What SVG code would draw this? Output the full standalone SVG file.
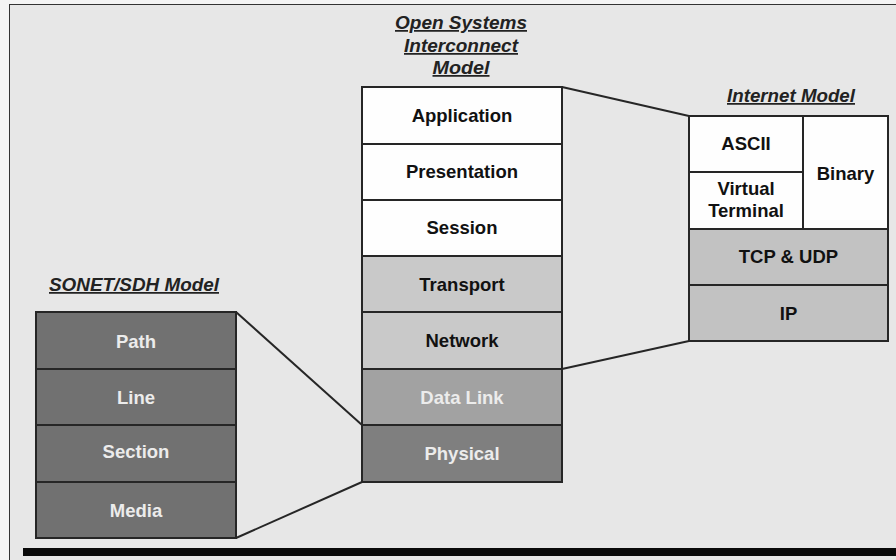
<svg xmlns="http://www.w3.org/2000/svg" width="896" height="560" viewBox="0 0 896 560">
<style>
.cell{stroke:#262626;stroke-width:2}
.w{fill:#fefefe}
.g1{fill:#c9c9c9}
.g2{fill:#a2a2a2}
.g3{fill:#7f7f7f}
.g4{fill:#717171}
.g5{fill:#c2c2c2}
.t{font-family:"Liberation Sans",Arial,sans-serif;font-weight:bold;font-size:18.5px;text-anchor:middle;fill:#111}
.lt{fill:#ececec}
.title{font-family:"Liberation Sans",Arial,sans-serif;font-weight:bold;font-style:italic;font-size:17.5px;text-anchor:middle;fill:#222;text-decoration:underline}
.conn{stroke:#262626;stroke-width:2;fill:none}
</style>
<rect x="0" y="0" width="896" height="560" fill="#f4f4f4"/>
<rect x="9.5" y="4.5" width="890" height="560" fill="#e7e7e7" stroke="#333" stroke-width="1"/>
<rect x="23" y="548" width="873" height="8" fill="#0a0a0a"/>

<g id="titles">
<text class="title" x="461" y="29" textLength="132" lengthAdjust="spacingAndGlyphs">Open Systems</text>
<text class="title" x="461" y="52" textLength="114" lengthAdjust="spacingAndGlyphs">Interconnect</text>
<text class="title" x="461" y="74" textLength="57" lengthAdjust="spacingAndGlyphs">Model</text>
<text class="title" x="791" y="102" textLength="128" lengthAdjust="spacingAndGlyphs">Internet Model</text>
<text class="title" x="134" y="291" textLength="170" lengthAdjust="spacingAndGlyphs">SONET/SDH Model</text>
</g>

<g id="connectors">
<line class="conn" x1="236" y1="312" x2="362" y2="425"/>
<line class="conn" x1="236" y1="538" x2="362" y2="482"/>
<line class="conn" x1="562" y1="87" x2="689" y2="116"/>
<line class="conn" x1="562" y1="369" x2="689" y2="341"/>
</g>

<g id="osi-application"><rect class="cell w" x="362" y="87" width="200" height="57"/><text class="t" x="462" y="122">Application</text></g>
<g id="osi-presentation"><rect class="cell w" x="362" y="144" width="200" height="56"/><text class="t" x="462" y="178">Presentation</text></g>
<g id="osi-session"><rect class="cell w" x="362" y="200" width="200" height="56"/><text class="t" x="462" y="234">Session</text></g>
<g id="osi-transport"><rect class="cell g1" x="362" y="256" width="200" height="56"/><text class="t" x="462" y="291">Transport</text></g>
<g id="osi-network"><rect class="cell g1" x="362" y="312" width="200" height="57"/><text class="t" x="462" y="347">Network</text></g>
<g id="osi-datalink"><rect class="cell g2" x="362" y="369" width="200" height="56"/><text class="t lt" x="462" y="404">Data Link</text></g>
<g id="osi-physical"><rect class="cell g3" x="362" y="425" width="200" height="57"/><text class="t lt" x="462" y="460">Physical</text></g>

<g id="inet-ascii"><rect class="cell w" x="689" y="116" width="114" height="56"/><text class="t" x="746" y="150">ASCII</text></g>
<g id="inet-virtual"><rect class="cell w" x="689" y="172" width="114" height="57"/><text class="t" x="746" y="195">Virtual</text><text class="t" x="746" y="217">Terminal</text></g>
<g id="inet-binary"><rect class="cell w" x="803" y="116" width="85" height="113"/><text class="t" x="845.5" y="180">Binary</text></g>
<g id="inet-tcpudp"><rect class="cell g5" x="689" y="229" width="199" height="56"/><text class="t" x="788.5" y="263">TCP &amp; UDP</text></g>
<g id="inet-ip"><rect class="cell g5" x="689" y="285" width="199" height="56"/><text class="t" x="788.5" y="320">IP</text></g>

<g id="sonet-path"><rect class="cell g4" x="36" y="312" width="200" height="57"/><text class="t lt" x="136" y="348">Path</text></g>
<g id="sonet-line"><rect class="cell g4" x="36" y="369" width="200" height="56"/><text class="t lt" x="136" y="404">Line</text></g>
<g id="sonet-section"><rect class="cell g4" x="36" y="425" width="200" height="57"/><text class="t lt" x="136" y="458">Section</text></g>
<g id="sonet-media"><rect class="cell g4" x="36" y="482" width="200" height="56"/><text class="t lt" x="136" y="517">Media</text></g>
</svg>
